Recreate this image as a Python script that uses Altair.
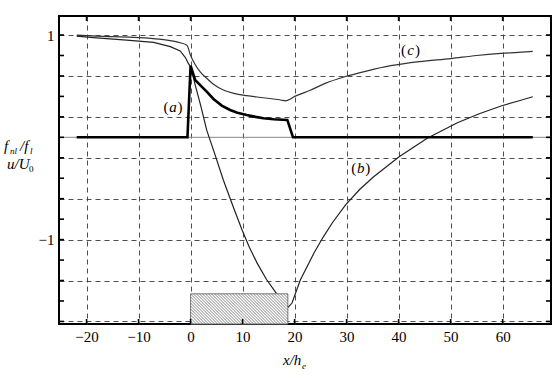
import altair as alt
import numpy as np
import pandas as pd

# ---- profiles along x/h_e -------------------------------------------------
# (a) thick trace: zero upstream, jumps at the leading edge, decays, drops at the trailing edge
xa = [-21.9, -0.6, 0.0, 0.9, 1.85, 3.1, 4.4, 6.0, 7.6, 9.0, 10.8, 12.5, 14.0, 16.0, 18.6, 19.7, 65.8]
ya = [0.0, 0.0, 0.70, 0.56, 0.51, 0.446, 0.375, 0.31, 0.267, 0.24, 0.218, 0.20, 0.186, 0.177, 0.17, 0.0, 0.0]

# (b) thin trace that dives over the block and recovers downstream
xb = [-21.9, -18.7, -12.3, -7.1, -3.9, -2.0, -1.0, -0.4, 0.0, 1.0, 2.0, 3.1, 4.5, 6.3, 7.0, 8.5,
      9.9, 11.3, 12.8, 14.6, 16.5, 17.8, 18.8, 19.5, 21.1, 23.7, 25.5, 27.2, 29.8, 32.5, 35.2,
      40.1, 45.5, 51.3, 55.5, 59.7, 63.0, 65.8]
yb = [0.99, 0.975, 0.951, 0.928, 0.886, 0.845, 0.78, 0.72, 0.69, 0.49, 0.30, 0.07, -0.14, -0.417,
      -0.515, -0.72, -0.906, -1.075, -1.23, -1.39, -1.525, -1.60, -1.66, -1.62, -1.395, -1.134,
      -0.975, -0.84, -0.66, -0.51, -0.385, -0.19, -0.01, 0.143, 0.23, 0.306, 0.355, 0.397]

# (c) thin upper trace
xc = [-21.9, -18.0, -11.0, -6.0, -2.0, -0.7, 0.0, 0.9, 1.85, 3.1, 4.4, 6.3, 8.3, 10.8, 14.0,
      17.3, 18.3, 19.2, 19.8, 21.0, 23.0, 26.0, 29.5, 34.0, 38.5, 44.0, 50.0, 55.0, 59.7, 63.0, 65.8]
yc = [1.0, 0.99, 0.978, 0.96, 0.925, 0.90, 0.80, 0.71, 0.64, 0.577, 0.518, 0.462, 0.43, 0.407,
      0.387, 0.365, 0.357, 0.375, 0.395, 0.42, 0.46, 0.53, 0.59, 0.65, 0.70, 0.74, 0.77, 0.80,
      0.82, 0.83, 0.84]

# hatched block on the floor
block_x = [0.0, 18.7]
block_top = -1.53

# curve labels
label_txt = ["a", "b", "c"]
label_x = [-3.4, 32.7, 42.3]
label_y = [0.295, -0.30, 0.853]

# axis ticks
x_ticks = list(range(-20, 61, 10))
y_ticks = [round(v, 1) for v in np.arange(-1.8, 1.01, 0.2)]

X_DOMAIN = [-25.3, 69.3]
Y_DOMAIN = [-1.825, 1.186]
W, H = 492, 308

SERIF = "Liberation Serif"
xs = alt.Scale(domain=X_DOMAIN, nice=False, zero=False)
ys = alt.Scale(domain=Y_DOMAIN, nice=False, zero=False)

minus_expr = "datum.value < 0 ? '\u2212' + abs(datum.value) : '' + datum.value"
y_label_expr = ("abs(datum.value - round(datum.value)) < 0.01 ? "
                "(datum.value < -0.5 ? '\u2212' + abs(round(datum.value)) : '' + round(datum.value)) : ''")

x_axis = alt.Axis(values=x_ticks, grid=True, gridDash=[5, 4], gridColor="#3a3a3a", gridWidth=0.9,
                  ticks=False, tickSize=0, domain=False, labelFont=SERIF, labelFontSize=15,
                  labelColor="black", labelPadding=5, labelExpr=minus_expr, title=None)
y_axis = alt.Axis(values=y_ticks, grid=True, gridDash=[5, 4], gridColor="#3a3a3a", gridWidth=0.9,
                  ticks=False, tickSize=0, domain=False, labelFont=SERIF, labelFontSize=15,
                  labelColor="black", labelPadding=5, labelExpr=y_label_expr, title=None)

df_a = pd.DataFrame({"x": xa, "y": ya})
df_b = pd.DataFrame({"x": xb, "y": yb})
df_c = pd.DataFrame({"x": xc, "y": yc})

# thin solid line along zero
zero = alt.Chart(pd.DataFrame({"y": [0.0]})).mark_rule(color="#888", strokeWidth=1).encode(
    y=alt.Y("y:Q", scale=ys, axis=y_axis),
    x=alt.value(0), x2=alt.value(W),
)

base_x = alt.X("x:Q", scale=xs, axis=x_axis)
base_y = alt.Y("y:Q", scale=ys, axis=y_axis)

line_c = alt.Chart(df_c).mark_line(color="#333", strokeWidth=1.2, interpolate="monotone").encode(
    x=base_x, y=base_y)
line_b = alt.Chart(df_b).mark_line(color="#222", strokeWidth=1.2, interpolate="linear").encode(
    x=base_x, y=base_y)
line_a = alt.Chart(df_a).mark_line(color="black", strokeWidth=2.6, interpolate="linear").encode(
    x=base_x, y=base_y)

# block with diagonal hatching
block_df = pd.DataFrame({"x": [block_x[0]], "x2": [block_x[1]], "y": [block_top], "y2": [Y_DOMAIN[0]]})
block = alt.Chart(block_df).mark_rect(fill="white", stroke="#777", strokeWidth=1).encode(
    x=alt.X("x:Q", scale=xs), x2="x2:Q", y=alt.Y("y:Q", scale=ys), y2="y2:Q")

kx = W / (X_DOMAIN[1] - X_DOMAIN[0])
ky = H / (Y_DOMAIN[1] - Y_DOMAIN[0])
x0, x1 = block_x
yb0, yt = Y_DOMAIN[0], block_top
segs = []
for c in np.arange(x0 * kx + yb0 * ky, x1 * kx + yt * ky, 3.0):
    xt = (c - yt * ky) / kx
    xbm = (c - yb0 * ky) / kx
    p1 = (xt, yt)
    p2 = (xbm, yb0)
    if xt < x0:
        p1 = (x0, (c - x0 * kx) / ky)
    if xbm > x1:
        p2 = (x1, (c - x1 * kx) / ky)
    if p2[0] > p1[0]:
        segs.append({"x": p1[0], "y": p1[1], "x2": p2[0], "y2": p2[1]})
hatch = alt.Chart(pd.DataFrame(segs)).mark_rule(color="#555", strokeWidth=0.7).encode(
    x=alt.X("x:Q", scale=xs), y=alt.Y("y:Q", scale=ys), x2="x2:Q", y2="y2:Q")

# curve labels: italic letter between upright parentheses
lab_df = pd.DataFrame({"t": label_txt, "x": label_x, "y": label_y})
lab_common = dict(font=SERIF, fontSize=15, color="black", baseline="middle")
lab_letter = alt.Chart(lab_df).mark_text(fontStyle="italic", **lab_common).encode(
    x=alt.X("x:Q", scale=xs), y=alt.Y("y:Q", scale=ys), text="t:N")
lab_open = alt.Chart(lab_df).mark_text(dx=-7, **lab_common).encode(
    x=alt.X("x:Q", scale=xs), y=alt.Y("y:Q", scale=ys), text=alt.value("("))
lab_close = alt.Chart(lab_df).mark_text(dx=7, **lab_common).encode(
    x=alt.X("x:Q", scale=xs), y=alt.Y("y:Q", scale=ys), text=alt.value(")"))

# inward tick marks on all four sides
ytk = pd.DataFrame({"y": y_ticks})
xtk = pd.DataFrame({"x": x_ticks})
tick_style = dict(color="black", strokeWidth=1.6)
t_left = alt.Chart(ytk).mark_rule(**tick_style).encode(
    y=alt.Y("y:Q", scale=ys), x=alt.value(0), x2=alt.value(5))
t_right = alt.Chart(ytk).mark_rule(**tick_style).encode(
    y=alt.Y("y:Q", scale=ys), x=alt.value(W - 5), x2=alt.value(W))
t_bot = alt.Chart(xtk).mark_rule(**tick_style).encode(
    x=alt.X("x:Q", scale=xs), y=alt.value(H - 5), y2=alt.value(H))
t_top = alt.Chart(xtk).mark_rule(**tick_style).encode(
    x=alt.X("x:Q", scale=xs), y=alt.value(0), y2=alt.value(5))


def txt(s, px, py, size=15, italic=True):
    kw = dict(font=SERIF, fontSize=size, color="black", align="left", baseline="alphabetic")
    if italic:
        kw["fontStyle"] = "italic"
    return alt.Chart(pd.DataFrame({"t": [s]})).mark_text(**kw).encode(
        x=alt.value(px), y=alt.value(py), text="t:N")


# axis titles with subscripts
titles = [
    txt("f", -55, 135), txt("nl", -49, 138, size=9), txt("/f", -39, 135), txt("l", -29, 138, size=9),
    txt("u/U", -52, 153), txt("0", -30, 156, size=9, italic=False),
    txt("x/h", 224, 349), txt("e", 243, 353, size=9),
]

chart = alt.layer(
    zero, line_c, line_b, line_a, block, hatch, lab_open, lab_letter, lab_close,
    t_left, t_right, t_bot, t_top, *titles,
).properties(
    width=W, height=H,
    autosize=alt.AutoSizeParams(type="none"),
    padding={"left": 59, "top": 16, "right": 9, "bottom": 54},
    background="white",
).configure_view(stroke="black", strokeWidth=2)

chart.save("out.html", embed_options={"renderer": "svg", "actions": False})
